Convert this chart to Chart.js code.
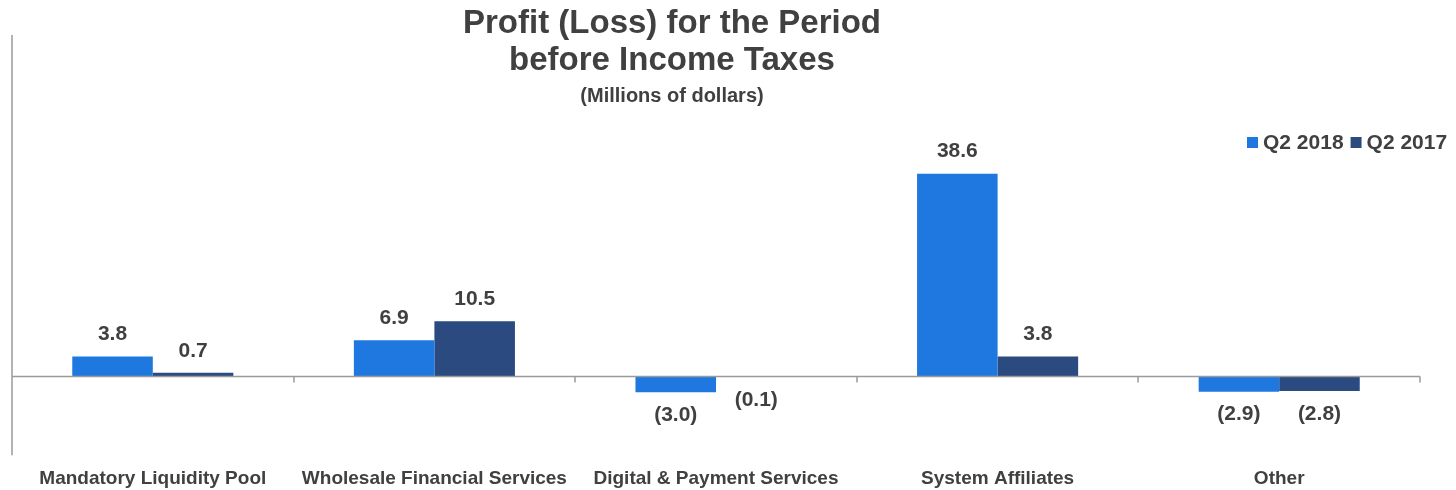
<!DOCTYPE html>
<html>
<head>
<meta charset="utf-8">
<script src="https://cdn.jsdelivr.net/npm/chart.js@4.4.0/dist/chart.umd.min.js"></script>
<style>
  html, body { margin: 0; padding: 0; background: #fff; }
  #wrap { width: 1456px; height: 490px; position: relative; }
</style>
</head>
<body>
<div id="wrap"><canvas id="myChart"></canvas></div>
<script>
const categories = ['Mandatory Liquidity Pool', 'Wholesale Financial Services', 'Digital & Payment Services', 'System Affiliates', 'Other'];
const q2_2018 = [3.8, 6.9, -3.0, 38.6, -2.9];
const q2_2017 = [0.7, 10.5, -0.1, 3.8, -2.8];
const seriesNames = ['Q2 2018', 'Q2 2017'];
const seriesColors = ['#1f78e0', '#2a4a80'];

const textColor = '#404040';
const axisColor = '#9a9a9a';
const fontFamily = '"Liberation Sans", Arial, sans-serif';

function fmt(v) {
  const s = Math.abs(v).toFixed(1);
  return v < 0 ? '(' + s + ')' : s;
}

// title, legend, axis lines and value labels
const extras = {
  id: 'extras',
  afterDatasetsDraw(chart) {
    const c = chart.ctx;
    const area = chart.chartArea;
    const y = chart.scales.y;
    const zero = y.getPixelForValue(0);

    c.save();
    c.strokeStyle = axisColor;
    c.lineWidth = 1.5;
    // y axis line
    c.beginPath();
    c.moveTo(area.left, area.top);
    c.lineTo(area.left, area.bottom);
    c.stroke();
    // zero line
    c.beginPath();
    c.moveTo(area.left, zero);
    c.lineTo(area.right, zero);
    c.stroke();
    // category ticks
    const step = (area.right - area.left) / categories.length;
    for (let i = 1; i <= categories.length; i++) {
      const tx = Math.round(area.left + step * i);
      c.beginPath();
      c.moveTo(tx, zero);
      c.lineTo(tx, zero + 6);
      c.stroke();
    }

    // value labels
    c.fillStyle = textColor;
    c.font = 'bold 21px ' + fontFamily;
    c.textAlign = 'center';
    c.textBaseline = 'middle';
    chart.data.datasets.forEach((ds, di) => {
      const meta = chart.getDatasetMeta(di);
      meta.data.forEach((bar, i) => {
        const v = ds.data[i];
        const ly = v >= 0 ? bar.y - 22 : bar.y + 23;
        c.fillText(fmt(v), bar.x, ly);
      });
    });

    // title
    c.font = 'bold 33px ' + fontFamily;
    c.fillText('Profit (Loss) for the Period', 672, 24);
    c.fillText('before Income Taxes', 672, 61);
    c.font = 'bold 20px ' + fontFamily;
    c.fillText('(Millions of dollars)', 672, 96);

    // legend
    c.textAlign = 'left';
    c.font = 'bold 21px ' + fontFamily;
    let lx = 1247;
    seriesNames.forEach((name, i) => {
      c.fillStyle = seriesColors[i];
      c.fillRect(lx, 137, 11, 11);
      c.fillStyle = textColor;
      c.fillText(name, lx + 16, 143);
      lx += 16 + c.measureText(name).width + 7;
    });
    c.restore();
  }
};

new Chart(document.getElementById('myChart'), {
  type: 'bar',
  data: {
    labels: categories,
    datasets: [{
      label: seriesNames[0],
      data: q2_2018,
      backgroundColor: seriesColors[0],
      categoryPercentage: 0.572,
      barPercentage: 1.0
    }, {
      label: seriesNames[1],
      data: q2_2017,
      backgroundColor: seriesColors[1],
      categoryPercentage: 0.572,
      barPercentage: 1.0
    }]
  },
  options: {
    responsive: true,
    maintainAspectRatio: false,
    animation: false,
    layout: { padding: { left: 12, right: 36, top: 35, bottom: -12 } },
    plugins: {
      legend: { display: false },
      tooltip: { enabled: false }
    },
    scales: {
      x: {
        grid: { display: false, drawTicks: false, tickLength: 0 },
        border: { display: false },
        ticks: {
          color: textColor,
          font: { family: fontFamily, size: 19, weight: 'bold' },
          padding: 12,
          maxRotation: 0,
          autoSkip: false
        }
      },
      y: {
        display: false,
        min: -15,
        max: 65
      }
    }
  },
  plugins: [extras]
});
</script>
</body>
</html>
